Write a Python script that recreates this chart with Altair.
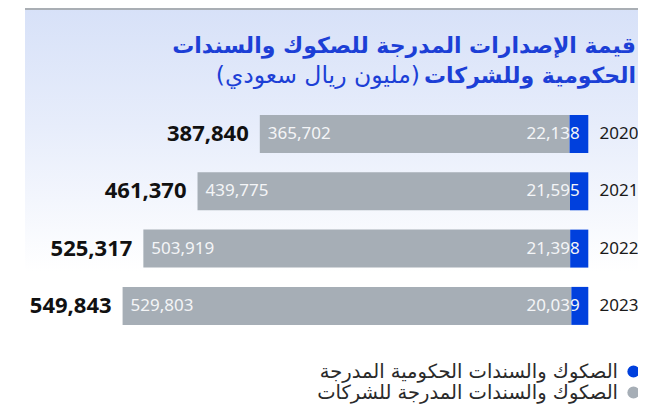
import altair as alt
import pandas as pd

# ---- data ----
years = ["2020", "2021", "2022", "2023"]
gov_vals = [22138, 21595, 21398, 20039]        # blue segment
corp_vals = [365702, 439775, 503919, 529803]   # gray segment
totals = [387840, 461370, 525317, 549843]

title_line1 = ["قيمة الإصدارات المدرجة للصكوك والسندات"]
title_line2_bold = ["الحكومية وللشركات"]
title_line2_unit = ["(مليون ريال سعودي)"]
legend_labels = ["الصكوك والسندات الحكومية المدرجة", "الصكوك والسندات المدرجة للشركات"]

BLUE = "#0040dd"
GRAY = "#a6aeb6"
TITLE_BLUE = "#1c3fd6"
legend_colors = [BLUE, GRAY]

df = pd.DataFrame({
    "year": years,
    "gov": gov_vals,
    "corp": corp_vals,
    "total": totals,
})
df["zero"] = 0
df["corp_end"] = df["gov"] + df["corp"]

leg = pd.DataFrame({"label": legend_labels, "color": legend_colors, "order": [0, 1]})

xs = alt.Scale(domain=[0, 600000], range=[580.3, 72.1])
ys = alt.Scale(domain=years, range=[97.35, 326.55], paddingInner=0.337, paddingOuter=0.1685)

NUM_FONT = "Noto Sans"
AR_FONT = "DejaVu Sans"

base = alt.Chart(df)

# background panel with gradient
bg = alt.Chart(pd.DataFrame({"a": [0]})).mark_rect(
    color=alt.Gradient(
        gradient="linear",
        stops=[
            alt.GradientStop(color="#d7e1f8", offset=0),
            alt.GradientStop(color="#e7edfb", offset=0.45),
            alt.GradientStop(color="#ffffff", offset=1),
        ],
        x1=0, x2=0, y1=0, y2=1,
    )
).encode(x=alt.value(17), x2=alt.value(640), y=alt.value(0), y2=alt.value(264))

top_rule = alt.Chart(pd.DataFrame({"a": [0]})).mark_rule(color="#a9aeb4", strokeWidth=2).encode(
    x=alt.value(17), x2=alt.value(640), y=alt.value(1)
)

gov_bar = base.mark_bar(color=BLUE).encode(
    x=alt.X("zero:Q", scale=xs, axis=None),
    x2="gov:Q",
    y=alt.Y("year:N", scale=ys, axis=None),
)
corp_bar = base.mark_bar(color=GRAY).encode(
    x=alt.X("gov:Q", scale=xs, axis=None),
    x2="corp_end:Q",
    y=alt.Y("year:N", scale=ys, axis=None),
)

total_txt = base.mark_text(align="right", baseline="middle", dx=-11, fontSize=22,
                           fontWeight="bold", font=NUM_FONT, color="#111111").encode(
    x=alt.X("total:Q", scale=xs, axis=None),
    y=alt.Y("year:N", scale=ys, axis=None),
    text=alt.Text("total:Q", format=","),
)
corp_txt = base.mark_text(align="left", baseline="middle", dx=8, fontSize=17,
                          font=NUM_FONT, color="#f4f5f7").encode(
    x=alt.X("total:Q", scale=xs, axis=None),
    y=alt.Y("year:N", scale=ys, axis=None),
    text=alt.Text("corp:Q", format=","),
)
gov_txt = base.mark_text(align="right", baseline="middle", dx=-8.6, fontSize=17,
                         font=NUM_FONT, color="#f4f5f7").encode(
    x=alt.X("zero:Q", scale=xs, axis=None),
    y=alt.Y("year:N", scale=ys, axis=None),
    text=alt.Text("gov:Q", format=","),
)
year_txt = base.mark_text(align="left", baseline="middle", dx=11.2, fontSize=17,
                          font=NUM_FONT, color="#1a1a1a").encode(
    x=alt.X("zero:Q", scale=xs, axis=None),
    y=alt.Y("year:N", scale=ys, axis=None),
    text="year:N",
)

t1 = alt.Chart(pd.DataFrame({"t": title_line1})).mark_text(
    align="right", baseline="alphabetic", fontSize=22, fontWeight="bold", font=AR_FONT, color=TITLE_BLUE
).encode(x=alt.value(628), y=alt.value(45), text="t:N")
t2 = alt.Chart(pd.DataFrame({"t": title_line2_bold})).mark_text(
    align="right", baseline="alphabetic", fontSize=22, fontWeight="bold", font=AR_FONT, color=TITLE_BLUE
).encode(x=alt.value(628), y=alt.value(75), text="t:N")
t3 = alt.Chart(pd.DataFrame({"t": title_line2_unit})).mark_text(
    align="right", baseline="alphabetic", fontSize=23.5, font=AR_FONT, color=TITLE_BLUE
).encode(x=alt.value(412), y=alt.value(75), text="t:N")

leg_y = alt.Scale(domain=[0, 1], range=[363.5, 384.5])
leg_dots = alt.Chart(leg).mark_point(filled=True, shape="circle", size=150, opacity=1).encode(
    x=alt.value(625.5),
    y=alt.Y("order:Q", scale=leg_y, axis=None),
    color=alt.Color("color:N", scale=None, legend=None),
)
leg_txt = alt.Chart(leg).mark_text(align="right", baseline="middle", fontSize=19.5,
                                   font=AR_FONT, color="#2a2a2a").encode(
    x=alt.value(610),
    y=alt.Y("order:Q", scale=leg_y, axis=None),
    text="label:N",
)

chart = alt.layer(
    bg, top_rule, corp_bar, gov_bar, total_txt, corp_txt, gov_txt, year_txt,
    t1, t2, t3, leg_dots, leg_txt
).resolve_scale(y="independent").properties(
    width=630, height=396,
    autosize=alt.AutoSizeParams(type="none"),
    padding=0,
    background="white",
).configure_view(stroke=None)

chart.save("out.html", embed_options={"renderer": "svg", "actions": False})
